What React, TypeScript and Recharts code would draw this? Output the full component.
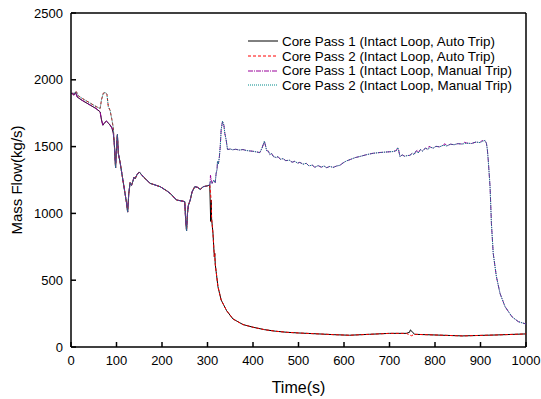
import React from 'react';
import { LineChart, Line, XAxis, YAxis, ReferenceLine } from 'recharts';

type Pt = [number, number];

// time (s), mass flow (kg/s)
const pass1Early: Pt[] = [
  [0, 1895], [3, 1900], [6, 1885], [10, 1905], [14, 1870], [25, 1845], [40, 1815], [55, 1785],
  [64, 1760], [67, 1700], [70, 1660], [74, 1680], [78, 1690], [84, 1670], [90, 1640], [93, 1600],
];
const pass2Early: Pt[] = [
  [0, 1900], [4, 1895], [8, 1905], [12, 1910], [16, 1880], [25, 1860], [40, 1830], [55, 1800],
  [64, 1785], [67, 1850], [71, 1900], [76, 1905], [79, 1890], [82, 1800], [86, 1770], [90, 1700], [93, 1640],
];
const sharedMid: Pt[] = [
  [95, 1530], [97, 1400], [98, 1340], [100, 1500], [102, 1590], [104, 1450], [108, 1380], [115, 1230],
  [122, 1080], [124.5, 1010], [127, 1150], [130, 1230], [133, 1210], [136, 1240], [138.5, 1270],
  [141, 1260], [145, 1290], [150, 1310], [160, 1270], [174, 1225], [196, 1200], [210, 1170], [218, 1150],
  [232, 1100], [245, 1092], [250, 1088], [252, 950], [254, 870], [256, 1000], [258, 1060], [262, 1100],
  [266, 1160], [272, 1200], [278, 1195], [284, 1180], [291, 1200], [298, 1205], [305, 1212],
];
const autoTail: Pt[] = [
  [308, 1100], [309, 960], [312, 853], [315, 676], [316, 700], [317, 620], [319, 564], [323, 451],
  [330, 352], [342, 272], [356, 210], [378, 168], [400, 148], [425, 130], [450, 118], [475, 110],
  [500, 105], [550, 97], [580, 92], [612, 88], [656, 95], [700, 102], [737, 102], [755, 95],
  [800, 90], [860, 83], [934, 90], [1000, 98],
];
const manualTail: Pt[] = [
  [306, 1240], [310, 1225], [314, 1250], [317, 1230], [319, 1300], [321, 1330], [322, 1390], [324, 1370],
  [326, 1420], [328, 1500], [330, 1625], [333, 1690], [336, 1660], [338, 1600], [341, 1550], [344, 1478],
  [350, 1482], [355, 1476], [362, 1480], [370, 1474], [378, 1478], [385, 1471], [392, 1468], [400, 1465],
  [408, 1460], [415, 1455], [420, 1490], [425, 1540], [428, 1500], [430, 1470], [434, 1465], [437, 1440],
  [441, 1448], [445, 1425], [451, 1418], [455, 1425], [460, 1405], [466, 1410], [472, 1395], [480, 1398],
  [486, 1383], [492, 1390], [498, 1376], [503, 1382], [510, 1368], [517, 1375], [523, 1355], [530, 1362],
  [536, 1345], [543, 1358], [550, 1346], [556, 1355], [562, 1342], [569, 1352], [576, 1344], [584, 1355],
  [591, 1360], [598, 1378], [605, 1392], [615, 1405], [625, 1418], [635, 1426], [650, 1440], [664, 1450],
  [680, 1456], [695, 1460], [708, 1463], [715, 1470], [718, 1492], [720, 1475], [723, 1425], [728, 1438],
  [733, 1428], [738, 1432], [745, 1435], [750, 1450], [754, 1440], [758, 1465], [763, 1452], [768, 1478],
  [773, 1466], [779, 1490], [784, 1478], [790, 1496], [796, 1488], [802, 1502], [810, 1498], [818, 1510],
  [826, 1505], [834, 1518], [842, 1514], [850, 1522], [860, 1519], [870, 1526], [880, 1523], [890, 1534],
  [899, 1530], [906, 1542], [910, 1546], [913, 1525], [915, 1480], [917, 1400], [919, 1300], [921, 1200],
  [924, 925], [928, 700], [932, 600], [935, 526], [943, 400], [954, 302], [969, 227], [983, 190], [1000, 172],
];
// series-specific blips
const blackExtra: Pt[] = [[307, 940], [744, 110], [746, 128], [749, 118]];
const redExtra: Pt[] = [[748, 84]];
const purpleExtra: Pt[] = [[306.5, 1285], [761, 1472], [787, 1502], [822, 1522], [865, 1532], [903, 1545]];
const tealExtra: Pt[] = [];

const xTicks = [0, 100, 200, 300, 400, 500, 600, 700, 800, 900, 1000];
const yTicks = [0, 500, 1000, 1500, 2000, 2500];

const build = (...parts: Pt[][]) =>
  parts.flat().sort((a, b) => a[0] - b[0]).map(([t, v]) => ({ t, v }));

const series = [
  { name: 'Core Pass 1 (Intact Loop, Auto Trip)', color: '#000000', dash: undefined, data: build(pass1Early, sharedMid, autoTail, blackExtra) },
  { name: 'Core Pass 2 (Intact Loop, Auto Trip)', color: '#ff0000', dash: '3 2', data: build(pass2Early, sharedMid, autoTail, redExtra) },
  { name: 'Core Pass 1 (Intact Loop, Manual Trip)', color: '#990099', dash: '5 1 1 1', data: build(pass1Early, sharedMid, manualTail, purpleExtra) },
  { name: 'Core Pass 2 (Intact Loop, Manual Trip)', color: '#008b8b', dash: '1 1', data: build(pass2Early, sharedMid, manualTail, tealExtra) },
];

const font = '"Liberation Sans", Arial, sans-serif';

// legend drawn as an overlay so it doesn't steal plot space
const ChartLegend = () => (
  <div style={{ position: 'absolute', top: 34, left: 248, fontFamily: font, fontSize: 13.4, color: '#000' }}>
    {series.map((s) => (
      <div key={s.name} style={{ display: 'flex', alignItems: 'center', height: 14.7, whiteSpace: 'nowrap' }}>
        <svg width={30} height={6} style={{ marginRight: 4 }}>
          <line x1={0} y1={3} x2={30} y2={3} stroke={s.color} strokeWidth={1} strokeDasharray={s.dash} />
        </svg>
        <span>{s.name}</span>
      </div>
    ))}
  </div>
);

export default function App() {
  return (
    <div style={{ position: 'absolute', left: 0, top: 0, width: 541, height: 399, background: '#fff' }}>
      <LineChart width={541} height={399} margin={{ top: 13, right: 15, bottom: 0, left: 0 }} style={{ fontFamily: font }}>
        <XAxis
          dataKey="t"
          type="number"
          domain={[0, 1000]}
          ticks={xTicks}
          allowDuplicatedCategory={false}
          height={52}
          tickSize={-5}
          tickMargin={14}
          stroke="#000"
          strokeWidth={1.5}
          tick={{ fill: '#000', fontSize: 13 }}
          label={{ value: 'Time(s)', position: 'insideBottom', offset: 6, fill: '#000', fontSize: 16 }}
        />
        <YAxis
          type="number"
          domain={[0, 2500]}
          ticks={yTicks}
          width={71}
          tickSize={-5}
          tickMargin={13}
          stroke="#000"
          strokeWidth={1.5}
          tick={{ fill: '#000', fontSize: 13 }}
          label={{ value: 'Mass Flow(kg/s)', angle: -90, position: 'insideLeft', offset: 17, fill: '#000', fontSize: 15, style: { textAnchor: 'middle' } }}
        />
        <ReferenceLine y={2500} stroke="#000" strokeWidth={1.5} />
        <ReferenceLine x={1000} stroke="#000" strokeWidth={1.5} />
        {series.map((s) => (
          <Line
            key={s.name}
            data={s.data}
            dataKey="v"
            name={s.name}
            type="linear"
            stroke={s.color}
            strokeWidth={1}
            strokeDasharray={s.dash}
            dot={false}
            isAnimationActive={false}
          />
        ))}
      </LineChart>
      <ChartLegend />
    </div>
  );
}
